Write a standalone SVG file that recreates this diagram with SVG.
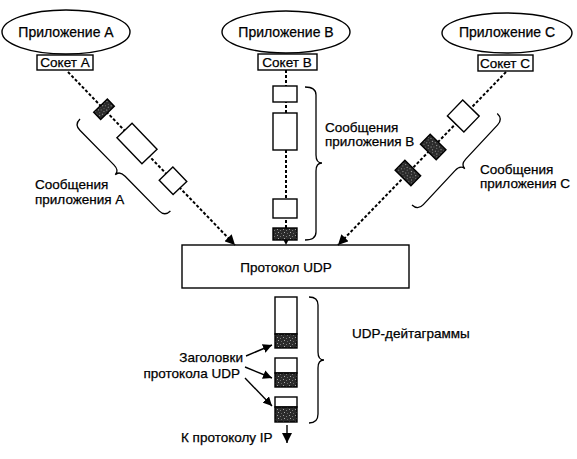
<svg xmlns="http://www.w3.org/2000/svg" width="577" height="459" viewBox="0 0 577 459">
<defs>
<pattern id="speck" width="6" height="6" patternUnits="userSpaceOnUse">
<rect width="6" height="6" fill="#2b2b2b"/>
<rect x="1" y="1" width="1" height="1" fill="#9a9a9a"/>
<rect x="4" y="2" width="1" height="1" fill="#777"/>
<rect x="2" y="4" width="1" height="1" fill="#aaa"/>
<rect x="5" y="5" width="1" height="1" fill="#666"/>
</pattern>
<marker id="ah" viewBox="0 0 10 10" refX="10" refY="5" markerWidth="10" markerHeight="10" markerUnits="userSpaceOnUse" orient="auto">
<path d="M0,0 L10,5 L0,10 Z" fill="#000"/>
</marker>
<marker id="ahs" viewBox="0 0 10 10" refX="10" refY="5" markerWidth="9" markerHeight="9" markerUnits="userSpaceOnUse" orient="auto">
<path d="M0,0 L10,5 L0,10 Z" fill="#000"/>
</marker>
</defs>
<style>
text{font-family:"Liberation Sans",Arial,sans-serif;font-size:13.5px;fill:#000;stroke:#000;stroke-width:0.25}
.big{font-size:14px}
.c{text-anchor:middle}
.e{text-anchor:end}
.sh{fill:#fff;stroke:#000;stroke-width:1.4}
.dk{fill:url(#speck);stroke:#000;stroke-width:1.4}
.dl{fill:none;stroke:#000;stroke-width:2;stroke-dasharray:3 2}
.br{fill:none;stroke:#000;stroke-width:1.3}
.ar{fill:none;stroke:#000;stroke-width:1.4}
</style>
<rect width="577" height="459" fill="#fff"/>

<g id="appA"><ellipse class="sh" cx="66" cy="32" rx="64" ry="22"/><text class="c big" x="66" y="37">Приложение А</text></g>
<g id="appB"><ellipse class="sh" cx="286" cy="32" rx="64" ry="21"/><text class="c big" x="286" y="37">Приложение В</text></g>
<g id="appC"><ellipse class="sh" cx="507" cy="33" rx="65" ry="20"/><text class="c big" x="507" y="37">Приложение С</text></g>

<g id="sockA"><rect class="sh" x="37" y="55" width="56" height="15"/><text class="c" x="65" y="67">Сокет А</text></g>
<g id="sockB"><rect class="sh" x="258" y="54" width="59" height="16"/><text class="c" x="287" y="67">Сокет В</text></g>
<g id="sockC"><rect class="sh" x="478" y="55" width="55" height="16"/><text class="c" x="505" y="68">Сокет С</text></g>

<g id="udp"><rect class="sh" x="182" y="245" width="227" height="43"/><text class="c" x="286" y="272">Протокол UDP</text></g>

<g id="connectors">
<line class="dl" x1="68" y1="72" x2="235" y2="245" marker-end="url(#ah)"/>
<line class="dl" x1="286" y1="70" x2="286" y2="245" marker-end="url(#ah)"/>
<line class="dl" x1="506" y1="72" x2="338" y2="245" marker-end="url(#ah)"/>
<line class="ar" x1="246" y1="356" x2="272" y2="345" marker-end="url(#ahs)"/>
<line class="ar" x1="245" y1="367" x2="272" y2="378" marker-end="url(#ahs)"/>
<line class="ar" x1="245" y1="378" x2="272" y2="406" marker-end="url(#ahs)"/>
<line class="ar" x1="287" y1="425" x2="287" y2="443" marker-end="url(#ah)"/>
</g>

<g id="msgA">
<rect class="dk" x="-5" y="-9.5" width="10" height="19" transform="translate(104,109.3) rotate(46)"/>
<rect class="sh" x="-18" y="-10.5" width="36" height="21" transform="translate(137,143.5) rotate(46)"/>
<rect class="sh" x="-10" y="-9.5" width="20" height="19" transform="translate(173,180.8) rotate(46)"/>
<path class="br" transform="translate(80,119) rotate(45.5)" d="M0,0 Q0,8 8,8 L56.5,8 Q64.5,8 64.5,14 Q64.5,8 72.5,8 L121,8 Q129,8 129,0"/>
<text x="35" y="189">Сообщения</text>
<text x="35" y="204">приложения А</text>
</g>

<g id="msgB">
<rect class="sh" x="273" y="86" width="24" height="16"/>
<rect class="sh" x="273" y="113" width="24" height="37"/>
<rect class="sh" x="273" y="199" width="24" height="19"/>
<rect class="dk" x="273" y="228" width="24" height="12"/>
<path class="br" d="M305,87 Q316,87 316,95 L316,155 Q316,163 322,163 Q316,163 316,171 L316,232 Q316,240 305,240"/>
<text x="325" y="132">Сообщения</text>
<text x="325" y="146">приложения В</text>
</g>

<g id="msgC">
<rect class="sh" x="-11" y="-11.5" width="22" height="23" transform="translate(463.3,116) rotate(134.2)"/>
<rect class="dk" x="-7" y="-11" width="14" height="22" transform="translate(433.2,147) rotate(134.2)"/>
<rect class="dk" x="-7" y="-11" width="14" height="22" transform="translate(407.9,173) rotate(134.2)"/>
<path class="br" transform="translate(412,205) rotate(-47)" d="M0,0 Q0,8 8,8 L54.5,8 Q62.5,8 62.5,14 Q62.5,8 70.5,8 L117,8 Q125,8 125,0"/>
<text x="480" y="174">Сообщения</text>
<text x="480" y="188">приложения С</text>
</g>

<g id="datagrams">
<rect class="sh" x="275" y="297" width="22" height="37"/>
<rect class="dk" x="275" y="334" width="22" height="14"/>
<rect class="sh" x="275" y="358" width="22" height="15"/>
<rect class="dk" x="275" y="373" width="22" height="14"/>
<rect class="sh" x="275" y="397" width="22" height="10"/>
<rect class="dk" x="275" y="407" width="22" height="15"/>
<path class="br" d="M309,297 Q318,297 318,305 L318,352 Q318,360 324,360 Q318,360 318,368 L318,414 Q318,423 309,423"/>
<text x="352" y="338">UDP-дейтаграммы</text>
</g>

<g id="headers">
<text class="e" x="243" y="362">Заголовки</text>
<text class="e" x="240" y="378">протокола UDP</text>
</g>
<g id="ip"><text x="181" y="442">К протоколу IP</text></g>
</svg>
